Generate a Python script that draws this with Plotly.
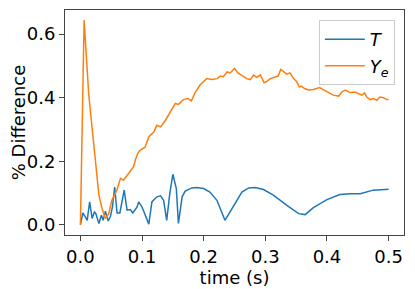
import plotly.graph_objects as go

# T series (time, % difference)
t_T = [0.000, 0.004, 0.008, 0.011, 0.015, 0.019, 0.0227, 0.025, 0.030, 0.034, 0.037, 0.0405,
       0.045, 0.0486, 0.052, 0.0556, 0.0595, 0.064, 0.071, 0.0757, 0.081, 0.085, 0.092, 0.0945,
       0.100, 0.105, 0.111, 0.116, 0.124, 0.130, 0.135, 0.140, 0.145, 0.150, 0.1556, 0.159,
       0.165, 0.170, 0.181, 0.189, 0.200, 0.210, 0.2215, 0.2345, 0.2485, 0.262, 0.273, 0.2836,
       0.297, 0.313, 0.335, 0.354, 0.3647, 0.378, 0.400, 0.421, 0.4376, 0.454, 0.475, 0.500]
v_T = [0.000, 0.037, 0.025, 0.014, 0.072, 0.020, 0.040, 0.035, 0.004, 0.030, 0.014, 0.043,
       0.012, 0.025, 0.056, 0.119, 0.037, 0.037, 0.109, 0.046, 0.048, 0.037, 0.056, 0.072,
       0.056, 0.030, 0.002, 0.072, 0.088, 0.091, 0.077, 0.014, 0.098, 0.159, 0.114, 0.004,
       0.088, 0.106, 0.116, 0.117, 0.114, 0.103, 0.077, 0.014, 0.061, 0.103, 0.116, 0.117,
       0.111, 0.093, 0.061, 0.035, 0.032, 0.054, 0.079, 0.095, 0.098, 0.098, 0.109, 0.112]

# Y_e series
t_Ye = [0.000, 0.006, 0.0135, 0.0216, 0.030, 0.035, 0.0405, 0.046, 0.051, 0.059, 0.065, 0.070,
        0.078, 0.086, 0.089, 0.093, 0.097, 0.105, 0.111, 0.119, 0.124, 0.130, 0.138, 0.146,
        0.154, 0.159, 0.167, 0.1745, 0.180, 0.186, 0.194, 0.205, 0.213, 0.222, 0.227, 0.232,
        0.238, 0.243, 0.250, 0.2555, 0.262, 0.270, 0.2755, 0.281, 0.286, 0.292, 0.298, 0.303,
        0.308, 0.316, 0.321, 0.325, 0.331, 0.335, 0.340, 0.346, 0.351, 0.355, 0.359, 0.3635,
        0.370, 0.378, 0.388, 0.394, 0.4025, 0.410, 0.419, 0.424, 0.4295, 0.4376, 0.4457, 0.451,
        0.4565, 0.461, 0.4646, 0.470, 0.4754, 0.481, 0.486, 0.4916, 0.497, 0.500]
v_Ye = [0.000, 0.644, 0.410, 0.257, 0.093, 0.052, 0.020, 0.035, 0.077, 0.108, 0.146, 0.140,
        0.162, 0.182, 0.203, 0.225, 0.235, 0.244, 0.277, 0.292, 0.313, 0.308, 0.329, 0.355,
        0.382, 0.379, 0.394, 0.397, 0.390, 0.415, 0.440, 0.460, 0.457, 0.460, 0.468, 0.466,
        0.481, 0.478, 0.492, 0.478, 0.471, 0.460, 0.457, 0.471, 0.464, 0.472, 0.447, 0.452,
        0.460, 0.466, 0.468, 0.489, 0.481, 0.474, 0.478, 0.460, 0.450, 0.434, 0.436, 0.429,
        0.424, 0.426, 0.432, 0.426, 0.418, 0.408, 0.405, 0.418, 0.424, 0.416, 0.418, 0.413,
        0.408, 0.415, 0.402, 0.394, 0.397, 0.392, 0.402, 0.400, 0.394, 0.394]

x_ticks = [0.0, 0.1, 0.2, 0.3, 0.4, 0.5]
y_ticks = [0.0, 0.2, 0.4, 0.6]

FS = 18

fig = go.Figure()
fig.add_trace(go.Scatter(x=t_T, y=v_T, mode="lines", name="<i>T</i>",
                         line=dict(color="#1f77b4", width=1.5)))
fig.add_trace(go.Scatter(x=t_Ye, y=v_Ye, mode="lines", name="<i>Y</i><sub><i>e</i></sub>",
                         line=dict(color="#ff7f0e", width=1.5)))

axis_common = dict(showgrid=False, zeroline=False, showline=True, mirror=True,
                   linecolor="#444", linewidth=1, ticks="outside", ticklen=5,
                   tickcolor="#444", tickfont=dict(size=FS, color="black"),
                   automargin=False)

# page has an 8px body margin, so the figure is 8px smaller and offsets trimmed
fig.update_layout(
    width=407, height=281,
    margin=dict(l=57, r=11, t=2, b=54),
    paper_bgcolor="white", plot_bgcolor="white",
    font=dict(family="DejaVu Sans", size=FS, color="black"),
    xaxis=dict(range=[-0.025, 0.525], tickvals=x_ticks, tickformat=".1f",
               title=dict(text="time (s)", font=dict(size=FS), standoff=2), **axis_common),
    yaxis=dict(range=[-0.0322, 0.676], tickvals=y_ticks, tickformat=".1f",
               title=dict(text="% Difference", font=dict(size=FS), standoff=6), **axis_common),
    legend=dict(x=0.973, y=0.955, xanchor="right", yanchor="top",
                bgcolor="rgba(255,255,255,0.8)", bordercolor="#cccccc", borderwidth=1,
                font=dict(size=FS), itemwidth=40),
    showlegend=True,
)

fig.write_html("out.html")
